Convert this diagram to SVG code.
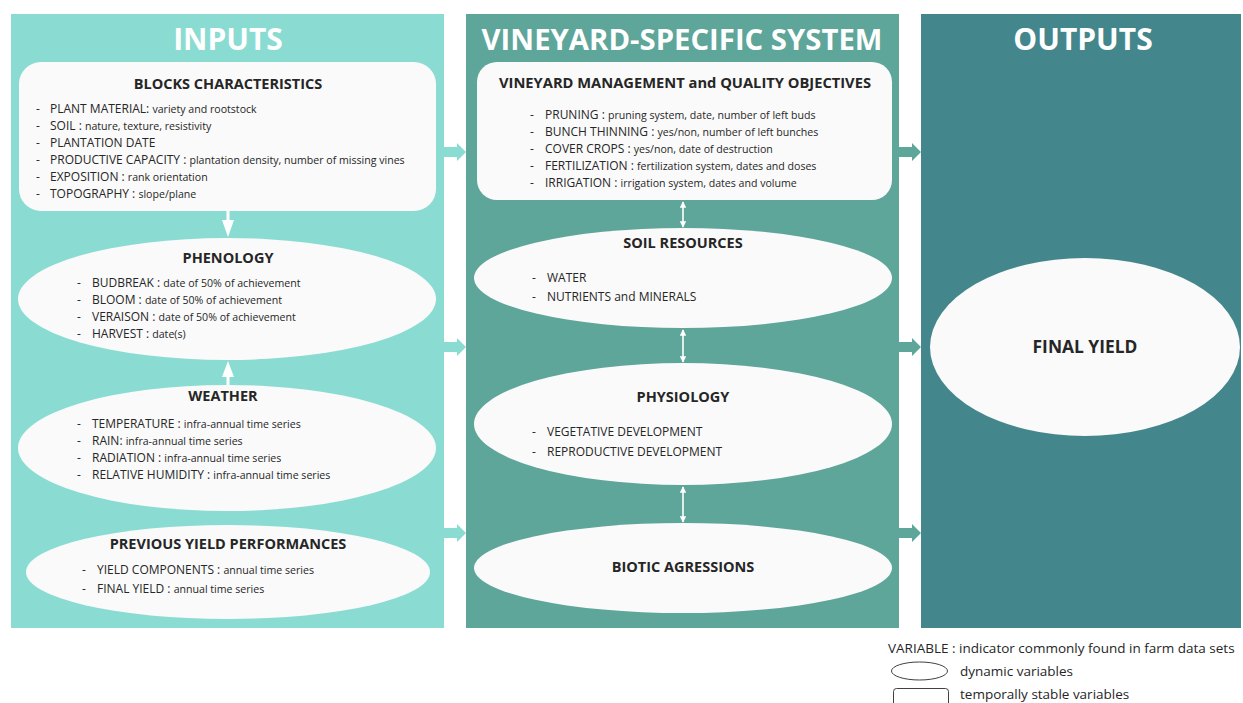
<svg xmlns="http://www.w3.org/2000/svg" width="1243" height="703" viewBox="0 0 1243 703">
<defs>
<style>
.t{font-family:"Open Sans","Liberation Sans",sans-serif;fill:#262626}
.h{font-family:"Open Sans","Liberation Sans",sans-serif;font-weight:700;fill:#262626;font-size:14.5px;text-anchor:middle}
.ph{font-family:"Open Sans","Liberation Sans",sans-serif;font-weight:700;fill:#FFFFFF;font-size:30px;text-anchor:middle}
.u{font-size:12px}
.l{font-size:10.6px}
.box{fill:#FAFAFA}
.leg{fill:none;stroke:#404040;stroke-width:1}
</style>
<marker id="ha" viewBox="0 0 10 10" refX="9" refY="5" markerWidth="4" markerHeight="4" orient="auto-start-reverse" markerUnits="strokeWidth">
<path d="M0,0 L10,5 L0,10 z" fill="#FFFFFF"/>
</marker>
</defs>

<g id="panels">
<rect id="panel-inputs" x="11" y="14" width="433" height="614" fill="#8ADCD3"/>
<rect id="panel-system" x="466" y="14" width="433" height="614" fill="#5EA59A"/>
<rect id="panel-outputs" x="921" y="14" width="320" height="614" fill="#43868B"/>
<text class="ph" x="228" y="50">INPUTS</text>
<text class="ph" x="682" y="50" style="font-size:29.3px">VINEYARD-SPECIFIC SYSTEM</text>
<text class="ph" x="1083" y="50">OUTPUTS</text>
</g>

<g id="connectors">
<polygon points="444,147 457,147 457,143 466,152 457,161 457,157 444,157" fill="#8ADCD3"/>
<polygon points="444,342 457,342 457,338 466,347 457,356 457,352 444,352" fill="#8ADCD3"/>
<polygon points="444,528 457,528 457,524 466,533 457,542 457,538 444,538" fill="#8ADCD3"/>
<polygon points="899,147 912,147 912,143 921,152 912,161 912,157 899,157" fill="#5EA59A"/>
<polygon points="899,342 912,342 912,338 921,347 912,356 912,352 899,352" fill="#5EA59A"/>
<polygon points="899,528 912,528 912,524 921,533 912,542 912,538 899,538" fill="#5EA59A"/>
<polygon points="226.5,211 229.5,211 229.5,220 234,220 228,237 222,220 226.5,220" fill="#FFFFFF"/>
<polygon points="226.5,388 229.5,388 229.5,377 234,377 228,361 222,377 226.5,377" fill="#FFFFFF"/>
<line x1="683" y1="202" x2="683" y2="227" stroke="#FFFFFF" stroke-width="1.6" marker-start="url(#ha)" marker-end="url(#ha)"/>
<line x1="683" y1="330" x2="683" y2="362" stroke="#FFFFFF" stroke-width="1.6" marker-start="url(#ha)" marker-end="url(#ha)"/>
<line x1="683" y1="487" x2="683" y2="522" stroke="#FFFFFF" stroke-width="1.6" marker-start="url(#ha)" marker-end="url(#ha)"/>
</g>

<g id="blocks">
<rect class="box" x="19" y="62" width="417" height="149" rx="22"/>
<text class="h" x="228" y="89">BLOCKS CHARACTERISTICS</text>
<g class="t">
<text x="36" y="113" class="u">-</text><text x="50" y="113"><tspan class="u">PLANT MATERIAL: </tspan><tspan class="l">variety and rootstock</tspan></text>
<text x="36" y="130" class="u">-</text><text x="50" y="130"><tspan class="u">SOIL : </tspan><tspan class="l">nature, texture, resistivity</tspan></text>
<text x="36" y="147" class="u">-</text><text x="50" y="147"><tspan class="u">PLANTATION DATE</tspan></text>
<text x="36" y="164" class="u">-</text><text x="50" y="164"><tspan class="u">PRODUCTIVE CAPACITY : </tspan><tspan class="l">plantation density, number of missing vines</tspan></text>
<text x="36" y="181" class="u">-</text><text x="50" y="181"><tspan class="u">EXPOSITION : </tspan><tspan class="l">rank orientation</tspan></text>
<text x="36" y="198" class="u">-</text><text x="50" y="198"><tspan class="u">TOPOGRAPHY : </tspan><tspan class="l">slope/plane</tspan></text>
</g>
</g>

<g id="phenology">
<ellipse class="box" cx="227" cy="299" rx="209" ry="61"/>
<text class="h" x="228" y="263">PHENOLOGY</text>
<g class="t">
<text x="77" y="287" class="u">-</text><text x="92" y="287"><tspan class="u">BUDBREAK : </tspan><tspan class="l">date of 50% of achievement</tspan></text>
<text x="77" y="304" class="u">-</text><text x="92" y="304"><tspan class="u">BLOOM : </tspan><tspan class="l">date of 50% of achievement</tspan></text>
<text x="77" y="321" class="u">-</text><text x="92" y="321"><tspan class="u">VERAISON : </tspan><tspan class="l">date of 50% of achievement</tspan></text>
<text x="77" y="338" class="u">-</text><text x="92" y="338"><tspan class="u">HARVEST : </tspan><tspan class="l">date(s)</tspan></text>
</g>
</g>

<g id="weather">
<ellipse class="box" cx="227" cy="448" rx="209" ry="63"/>
<text class="h" x="223" y="401">WEATHER</text>
<g class="t">
<text x="77" y="428" class="u">-</text><text x="92" y="428"><tspan class="u">TEMPERATURE : </tspan><tspan class="l">infra-annual time series</tspan></text>
<text x="77" y="445" class="u">-</text><text x="92" y="445"><tspan class="u">RAIN: </tspan><tspan class="l">infra-annual time series</tspan></text>
<text x="77" y="462" class="u">-</text><text x="92" y="462"><tspan class="u">RADIATION : </tspan><tspan class="l">infra-annual time series</tspan></text>
<text x="77" y="479" class="u">-</text><text x="92" y="479"><tspan class="u">RELATIVE HUMIDITY : </tspan><tspan class="l">infra-annual time series</tspan></text>
</g>
</g>

<g id="previous-yield">
<ellipse class="box" cx="228" cy="572" rx="202" ry="47"/>
<text class="h" x="228" y="549">PREVIOUS YIELD PERFORMANCES</text>
<g class="t">
<text x="82" y="574" class="u">-</text><text x="97" y="574"><tspan class="u">YIELD COMPONENTS : </tspan><tspan class="l">annual time series</tspan></text>
<text x="82" y="593" class="u">-</text><text x="97" y="593"><tspan class="u">FINAL YIELD : </tspan><tspan class="l">annual time series</tspan></text>
</g>
</g>

<g id="management">
<rect class="box" x="477" y="62" width="415" height="138" rx="20"/>
<text class="h" x="685" y="88" style="font-size:14.7px">VINEYARD MANAGEMENT and QUALITY OBJECTIVES</text>
<g class="t">
<text x="530" y="119" class="u">-</text><text x="545" y="119"><tspan class="u">PRUNING : </tspan><tspan class="l">pruning system, date, number of left buds</tspan></text>
<text x="530" y="136" class="u">-</text><text x="545" y="136"><tspan class="u">BUNCH THINNING : </tspan><tspan class="l">yes/non, number of left bunches</tspan></text>
<text x="530" y="153" class="u">-</text><text x="545" y="153"><tspan class="u">COVER CROPS : </tspan><tspan class="l">yes/non, date of destruction</tspan></text>
<text x="530" y="170" class="u">-</text><text x="545" y="170"><tspan class="u">FERTILIZATION : </tspan><tspan class="l">fertilization system, dates and doses</tspan></text>
<text x="530" y="187" class="u">-</text><text x="545" y="187"><tspan class="u">IRRIGATION : </tspan><tspan class="l">irrigation system, dates and volume</tspan></text>
</g>
</g>

<g id="soil-resources">
<ellipse class="box" cx="683" cy="278" rx="209" ry="50"/>
<text class="h" x="683" y="248">SOIL RESOURCES</text>
<g class="t">
<text x="532" y="282" class="u">-</text><text x="547" y="282" class="u">WATER</text>
<text x="532" y="301" class="u">-</text><text x="547" y="301" class="u">NUTRIENTS and MINERALS</text>
</g>
</g>

<g id="physiology">
<ellipse class="box" cx="683" cy="424" rx="209" ry="61"/>
<text class="h" x="683" y="402">PHYSIOLOGY</text>
<g class="t">
<text x="532" y="436" class="u">-</text><text x="547" y="436" class="u">VEGETATIVE DEVELOPMENT</text>
<text x="532" y="456" class="u">-</text><text x="547" y="456" class="u">REPRODUCTIVE DEVELOPMENT</text>
</g>
</g>

<g id="biotic">
<ellipse class="box" cx="683" cy="568" rx="209" ry="45"/>
<text class="h" x="683" y="572">BIOTIC AGRESSIONS</text>
</g>

<g id="final-yield">
<ellipse class="box" cx="1085" cy="347" rx="155" ry="89"/>
<text class="h" x="1085" y="353" style="font-size:17.4px">FINAL YIELD</text>
</g>

<g id="legend">
<text class="t" x="888" y="653" font-size="13.5">VARIABLE : indicator commonly found in farm data sets</text>
<ellipse class="leg" cx="919.5" cy="671" rx="28" ry="9"/>
<text class="t" x="960" y="676" font-size="13.5">dynamic variables</text>
<rect class="leg" x="893.5" y="688.5" width="55" height="24" rx="3"/>
<text class="t" x="960" y="699" font-size="13.5">temporally stable variables</text>
</g>
</svg>
